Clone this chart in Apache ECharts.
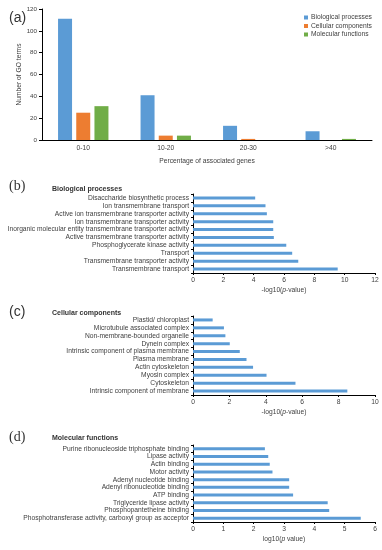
<!DOCTYPE html>
<html><head><meta charset="utf-8">
<script src="https://cdn.jsdelivr.net/npm/echarts@6/dist/echarts.min.js"></script>
<style>html,body{margin:0;padding:0;background:#fff}#c{width:382px;height:550px}</style>
</head><body><div id="c"></div>
<script>
// Panel (a)
const aCategories = ['0-10', '10-20', '20-30', '>40'];
const aSeriesNames = ['Biological processes', 'Cellular components', 'Molecular functions'];
const aBiological = [111, 41, 13, 8];
const aCellular = [25, 4, 1, 0];
const aMolecular = [31, 4, 0, 1];
const aYTicks = [0, 20, 40, 60, 80, 100, 120];

// Panel (b) (top to bottom)
const bTerms = ['Disaccharide biosynthetic process', 'Ion transmembrane transport', 'Active ion transmembrane transporter activity', 'Ion transmembrane transporter activity', 'Inorganic molecular entity transmembrane transporter activity', 'Active transmembrane transporter activity', 'Phosphoglycerate kinase activity', 'Transport', 'Transmembrane transporter activity', 'Transmembrane transport'];
const bValues = [4.1, 4.78, 4.87, 5.29, 5.29, 5.33, 6.15, 6.54, 6.94, 9.54];

// Panel (c)
const cTerms = ['Plastid/ chloroplast', 'Microtubule associated complex', 'Non-membrane-bounded organelle', 'Dynein complex', 'Intrinsic component of plasma membrane', 'Plasma membrane', 'Actin cytoskeleton', 'Myosin complex', 'Cytoskeleton', 'Intrinsic component of membrane'];
const cValues = [1.08, 1.7, 1.78, 2.02, 2.57, 2.94, 3.3, 4.04, 5.63, 8.48];

// Panel (d)
const dTerms = ['Purine ribonucleoside triphosphate binding', 'Lipase activity', 'Actin binding', 'Motor activity', 'Adenyl nucleotide binding', 'Adenyl ribonucleotide binding', 'ATP binding', 'Triglyceride lipase activity', 'Phosphopantetheine binding', 'Phosphotransferase activity, carboxyl group as acceptor'];
const dValues = [2.37, 2.48, 2.53, 2.62, 3.17, 3.17, 3.3, 4.44, 4.49, 5.53];

const FONT = 'Liberation Sans, Arial, sans-serif';
const TXT = '#404040';
const BLUE = '#5B9BD5', ORANGE = '#ED7D31', GREEN = '#70AD47';

const chart = echarts.init(document.getElementById('c'), null, {renderer: 'canvas'});

function valueAxis(grid, max, interval, name) {
  return {
    type: 'value', gridIndex: grid, min: 0, max: max, interval: interval,
    axisLine: {show: true, lineStyle: {color: '#000', width: 1}},
    axisTick: {show: true, length: 2, lineStyle: {color: '#000'}},
    axisLabel: {fontSize: 6.7, color: TXT, fontFamily: FONT, margin: 4},
    splitLine: {show: false},
    name: name, nameLocation: 'middle', nameGap: 14,
    nameTextStyle: {fontSize: 6.7, color: TXT, fontFamily: FONT, rich: {i: {fontStyle: 'italic', fontSize: 6.7, color: TXT, fontFamily: FONT}}}
  };
}
function catAxis(grid, terms) {
  return {
    type: 'category', gridIndex: grid, data: terms, inverse: true,
    axisLine: {show: true, lineStyle: {color: '#000', width: 1}},
    axisTick: {show: true, length: 2, lineStyle: {color: '#000'}},
    axisLabel: {fontSize: 6.7, color: TXT, fontFamily: FONT, margin: 4, interval: 0},
    splitLine: {show: false}
  };
}

const option = {
  animation: false,
  backgroundColor: '#fff',
  title: [
    {text: '(a)', left: 4, top: 6, textStyle: {fontSize: 14, fontWeight: 'normal', color: '#333', fontFamily: FONT}},
    {text: '(b)', left: 4, top: 174, textStyle: {fontSize: 14, fontWeight: 'normal', color: '#333', fontFamily: 'Liberation Serif, serif'}},
    {text: 'Biological processes', left: 47, top: 181, textStyle: {fontSize: 7, fontWeight: 'bold', color: '#333', fontFamily: FONT}},
    {text: '(c)', left: 4, top: 300, textStyle: {fontSize: 14, fontWeight: 'normal', color: '#333', fontFamily: FONT}},
    {text: 'Cellular components', left: 47, top: 305, textStyle: {fontSize: 7, fontWeight: 'bold', color: '#333', fontFamily: FONT}},
    {text: '(d)', left: 4, top: 425, textStyle: {fontSize: 14, fontWeight: 'normal', color: '#333', fontFamily: 'Liberation Serif, serif'}},
    {text: 'Molecular functions', left: 47, top: 430, textStyle: {fontSize: 7, fontWeight: 'bold', color: '#333', fontFamily: FONT}}
  ],
  legend: {
    data: aSeriesNames, orient: 'vertical', left: 299, top: 9,
    icon: 'rect', itemWidth: 4, itemHeight: 4, itemGap: 1.5,
    textStyle: {fontSize: 6.7, color: TXT, fontFamily: FONT, padding: [0, 0, 0, -2]}
  },
  grid: [
    {left: 42, top: 9, width: 330, height: 131},
    {left: 193, top: 194, width: 182, height: 79},
    {left: 193, top: 316, width: 182, height: 79},
    {left: 193, top: 445, width: 182, height: 77}
  ],
  xAxis: [
    {
      type: 'category', gridIndex: 0, data: aCategories,
      axisLine: {show: true, lineStyle: {color: '#000', width: 1}},
      axisTick: {show: false},
      axisLabel: {fontSize: 6.7, color: TXT, fontFamily: FONT, margin: 5},
      name: 'Percentage of associated genes', nameLocation: 'middle', nameGap: 18,
      nameTextStyle: {fontSize: 6.7, color: TXT, fontFamily: FONT}
    },
    valueAxis(1, 12, 2, '-log10({i|p}-value)'),
    valueAxis(2, 10, 2, '-log10({i|p}-value)'),
    valueAxis(3, 6, 1, 'log10({i|p} value)')
  ],
  yAxis: [
    {
      type: 'value', gridIndex: 0, min: aYTicks[0], max: aYTicks[aYTicks.length - 1], interval: aYTicks[1] - aYTicks[0],
      axisLine: {show: true, lineStyle: {color: '#000', width: 1}},
      axisTick: {show: true, length: 3, lineStyle: {color: '#000'}},
      axisLabel: {fontSize: 6.2, color: TXT, fontFamily: FONT, margin: 5},
      splitLine: {show: false},
      name: 'Number of GO terms', nameLocation: 'middle', nameGap: 19, nameRotate: 90, nameMoveOverlap: false,
      nameTextStyle: {fontSize: 6.7, color: TXT, fontFamily: FONT}
    },
    catAxis(1, bTerms),
    catAxis(2, cTerms),
    catAxis(3, dTerms)
  ],
  series: [
    {name: aSeriesNames[0], type: 'bar', xAxisIndex: 0, yAxisIndex: 0, data: aBiological, barWidth: 14, barGap: '30%', itemStyle: {color: BLUE}},
    {name: aSeriesNames[1], type: 'bar', xAxisIndex: 0, yAxisIndex: 0, data: aCellular, barWidth: 14, barGap: '30%', itemStyle: {color: ORANGE}},
    {name: aSeriesNames[2], type: 'bar', xAxisIndex: 0, yAxisIndex: 0, data: aMolecular, barWidth: 14, barGap: '30%', itemStyle: {color: GREEN}},
    {type: 'bar', xAxisIndex: 1, yAxisIndex: 1, data: bValues, barWidth: 3, itemStyle: {color: BLUE}},
    {type: 'bar', xAxisIndex: 2, yAxisIndex: 2, data: cValues, barWidth: 3, itemStyle: {color: BLUE}},
    {type: 'bar', xAxisIndex: 3, yAxisIndex: 3, data: dValues, barWidth: 3, itemStyle: {color: BLUE}}
  ]
};
chart.setOption(option);
</script>
</body></html>
